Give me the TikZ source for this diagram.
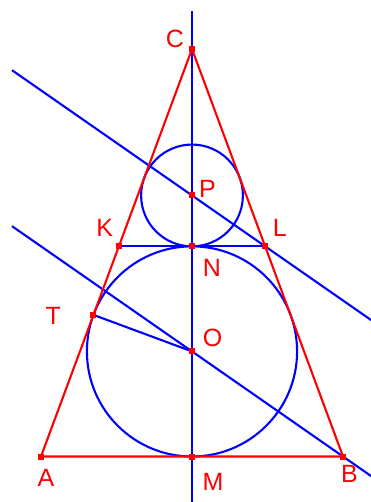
\documentclass[tikz,border=0pt]{standalone}
\usepackage{fontspec}
\setmainfont{Liberation Sans}
\usetikzlibrary{calc}
\definecolor{geored}{RGB}{255,0,0}
\definecolor{geoblue}{RGB}{0,0,255}
\begin{document}
\begin{tikzpicture}[x=1pt,y=-1pt,
  redline/.style={geored,line width=2.1pt,line join=round},
  blueline/.style={geoblue,line width=2.1pt},
  ptmark/.style={fill=geored,inner sep=0pt,minimum size=6pt,rectangle},
  lab/.style={text=geored,font=\fontsize{25}{25}\selectfont,inner sep=0pt}]
\useasboundingbox (0,0) rectangle (371,502);
\clip (0,0) rectangle (371,502);
% points
\coordinate (A) at (41,456.5);
\coordinate (B) at (343,456.5);
\coordinate (C) at (192,49);
\coordinate (M) at (192,456.5);
\coordinate (O) at (192,351.42);
\coordinate (N) at (192,246.34);
\coordinate (K) at (118.88,246.34);
\coordinate (L) at (265.12,246.34);
\coordinate (P) at (192,195.45);
\coordinate (T) at (93.47,314.91);
\coordinate (axtop) at (192,11);
\coordinate (axbot) at (192,510);
\coordinate (b1) at (12,226.15);
\coordinate (b2) at (390,489.2);
\coordinate (l1) at (12,70.19);
\coordinate (l2) at (390,333.2);
% blue construction
\draw[blueline] (axtop) -- (axbot);
\draw[blueline] (b1) -- (b2);
\draw[blueline] (l1) -- (l2);
\draw[blueline] (O) circle[radius=105.08];
\draw[blueline] (P) circle[radius=50.89];
\draw[blueline] (T) -- (O);
% red triangle
\draw[redline] (A) -- (B) -- (C) -- cycle;
\draw[blueline] (K) -- (L);
% markers
\foreach \p in {A,B,C,M,O,N,K,L,P,T}
  \node[ptmark] (m\p) at (\p) {};
% labels
\node[lab] (lC) at (175,38.7) {C};
\node[lab] (lA) at (46,478) {A};
\node[lab] (lM) at (213,482) {M};
\node[lab] (lB) at (349.5,474) {B};
\node[lab] (lK) at (104.7,227.5) {K};
\node[lab] (lL) at (279.7,227.5) {L};
\node[lab] (lT) at (53.3,315.5) {T};
\node[lab] (lN) at (212,267.5) {N};
\node[lab] (lP) at (207.5,189) {P};
\node[lab] (lO) at (212.5,338) {O};
\end{tikzpicture}
\end{document}
